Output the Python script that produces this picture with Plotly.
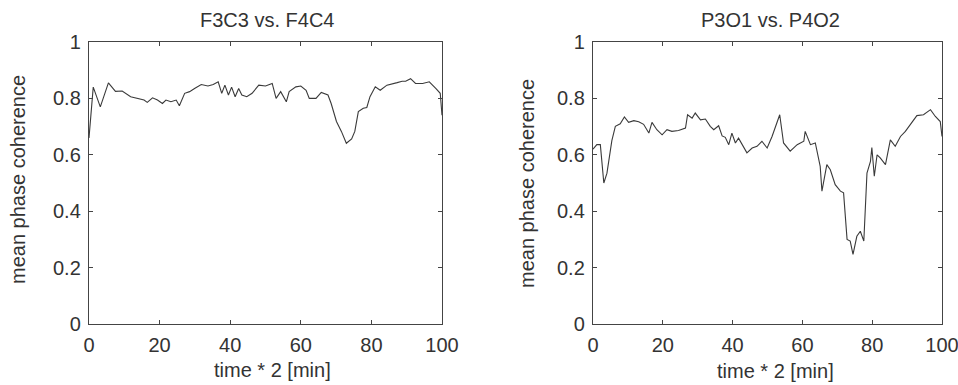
import plotly.graph_objects as go

# Left panel: F3C3 vs. F4C4
t_left = [0, 1.2, 3.2, 5.5, 7.5, 9.4, 11.8, 13.7, 15.6, 16.5, 18, 19.4, 20.8, 21.8, 23.2,
          24.7, 25.6, 27.1, 28.5, 29.9, 31.8, 33.7, 35.2, 36.6, 37.6, 38.5, 39.5, 40.4,
          41.4, 42.4, 43.3, 44.7, 46.2, 48.1, 50, 51.9, 53, 54.3, 55.9, 56.7, 58.6, 60,
          61.5, 62.4, 64.3, 65.8, 67.7, 68.6, 70.1, 71.5, 72.9, 74.4, 75.3, 76.3, 77.7,
          78.7, 79.6, 81.1, 82.5, 84.4, 85.9, 87.3, 88.7, 89.7, 91.1, 92.5, 94.5, 96.4,
          98.3, 99.5, 100]
v_left = [0.66, 0.84, 0.77, 0.855, 0.825, 0.826, 0.806, 0.80, 0.794, 0.786, 0.802, 0.794,
          0.782, 0.794, 0.788, 0.794, 0.774, 0.818, 0.824, 0.835, 0.849, 0.844, 0.849,
          0.859, 0.818, 0.847, 0.812, 0.84, 0.806, 0.835, 0.812, 0.806, 0.818, 0.847,
          0.844, 0.853, 0.80, 0.824, 0.788, 0.824, 0.841, 0.844, 0.829, 0.80, 0.80, 0.821,
          0.812, 0.782, 0.718, 0.683, 0.641, 0.656, 0.683, 0.753, 0.765, 0.768, 0.806,
          0.841, 0.829, 0.847, 0.853, 0.856, 0.861, 0.861, 0.87, 0.853, 0.853, 0.859,
          0.835, 0.818, 0.74]

# Right panel: P3O1 vs. P4O2
t_right = [0, 1.1, 2.1, 3.1, 4.0, 4.5, 5.4, 6.4, 7.8, 9.0, 10.2, 11.7, 13.1, 14.5, 16.0,
           16.9, 18.3, 19.8, 21.2, 22.6, 24.5, 26.5, 27.1, 28.4, 29.3, 30.8, 32.2, 33.6,
           34.6, 36.0, 37.0, 37.9, 38.9, 39.8, 40.8, 41.7, 42.7, 44.1, 45.6, 47.0, 48.4,
           49.9, 51.3, 53.5, 54.6, 56.5, 58.5, 60.4, 60.8, 62.3, 63.7, 65.1, 65.6, 67.0,
           68.0, 69.4, 70.9, 71.8, 72.8, 73.7, 74.5, 75.6, 76.6, 77.6, 78.5, 79.5, 79.9,
           80.6, 81.4, 82.3, 83.8, 85.2, 86.6, 88.1, 89.5, 90.9, 92.8, 94.7, 96.7, 98.1,
           99.5, 100]
v_right = [0.62, 0.636, 0.636, 0.50, 0.535, 0.571, 0.65, 0.701, 0.710, 0.734, 0.715, 0.721,
           0.717, 0.708, 0.677, 0.715, 0.689, 0.671, 0.689, 0.683, 0.686, 0.695, 0.742,
           0.730, 0.748, 0.724, 0.727, 0.701, 0.689, 0.703, 0.667, 0.662, 0.636, 0.677,
           0.642, 0.659, 0.636, 0.607, 0.624, 0.630, 0.648, 0.624, 0.665, 0.742, 0.642,
           0.613, 0.636, 0.648, 0.683, 0.636, 0.642, 0.559, 0.471, 0.565, 0.547, 0.494,
           0.471, 0.465, 0.30, 0.294, 0.247, 0.311, 0.329, 0.294, 0.535, 0.577, 0.626,
           0.524, 0.60, 0.589, 0.565, 0.653, 0.63, 0.665, 0.683, 0.707, 0.739, 0.742,
           0.760, 0.736, 0.718, 0.665]

x_ticks = [0, 20, 40, 60, 80, 100]
y_ticks = [0, 0.2, 0.4, 0.6, 0.8, 1]
titles = ["F3C3 vs. F4C4", "P3O1 vs. P4O2"]
x_title = "time * 2 [min]"
y_title = "mean phase coherence"

W, H = 958, 385
FONT = "Liberation Sans, Arial, sans-serif"
TXT = "#333333"
LINE = "#3a3a3a"

fig = go.Figure()
fig.add_trace(go.Scatter(x=t_left, y=v_left, mode="lines", xaxis="x", yaxis="y",
                         line=dict(color=LINE, width=1.1), showlegend=False))
fig.add_trace(go.Scatter(x=t_right, y=v_right, mode="lines", xaxis="x2", yaxis="y2",
                         line=dict(color=LINE, width=1.1), showlegend=False))

def px(x):
    return x / W

def py(y):
    return 1 - y / H

y_dom = [py(324), py(42)]
axis_common = dict(showline=True, mirror="ticks", linecolor="#444444", linewidth=1.4,
                   ticks="inside", ticklen=4, tickcolor="#444444", tickwidth=1.2,
                   showgrid=False, zeroline=False, automargin=False,
                   ticklabeloverflow="allow", ticklabelstandoff=3,
                   tickfont=dict(family=FONT, size=20, color=TXT))

fig.update_layout(
    width=W, height=H,
    margin=dict(l=0, r=0, t=0, b=0),
    paper_bgcolor="white", plot_bgcolor="white",
    xaxis=dict(domain=[px(89), px(442)], range=[0, 100], tickvals=x_ticks,
               anchor="y", **axis_common),
    yaxis=dict(domain=y_dom, range=[0, 1], tickvals=y_ticks, anchor="x", **axis_common),
    xaxis2=dict(domain=[px(593), px(942)], range=[0, 100], tickvals=x_ticks,
                anchor="y2", **axis_common),
    yaxis2=dict(domain=y_dom, range=[0, 1], tickvals=y_ticks, anchor="x2", **axis_common),
)

ann_font = dict(family=FONT, size=20, color=TXT)
annotations = [
    dict(text=titles[0], x=px(267), y=py(20), xref="paper", yref="paper",
         showarrow=False, font=ann_font, xanchor="center", yanchor="middle"),
    dict(text=titles[1], x=px(770), y=py(20), xref="paper", yref="paper",
         showarrow=False, font=ann_font, xanchor="center", yanchor="middle"),
    dict(text=x_title, x=px(272), y=py(370), xref="paper", yref="paper",
         showarrow=False, font=ann_font, xanchor="center", yanchor="middle"),
    dict(text=x_title, x=px(775), y=py(371), xref="paper", yref="paper",
         showarrow=False, font=ann_font, xanchor="center", yanchor="middle"),
    dict(text=y_title, x=px(18), y=py(180), xref="paper", yref="paper", textangle=-90,
         showarrow=False, font=ann_font, xanchor="center", yanchor="middle"),
    dict(text=y_title, x=px(527), y=py(184), xref="paper", yref="paper", textangle=-90,
         showarrow=False, font=ann_font, xanchor="center", yanchor="middle"),
]
fig.update_layout(annotations=annotations)

fig.write_html("out.html")
